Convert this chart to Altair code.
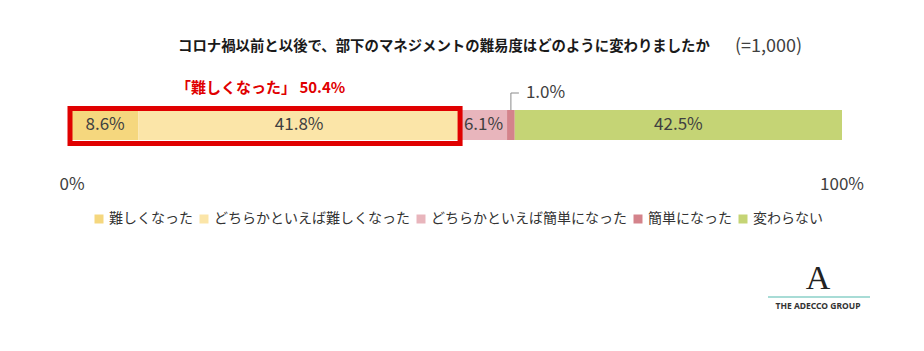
import altair as alt
import pandas as pd

# ---- data ----
categories = ["難しくなった", "どちらかといえば難しくなった", "どちらかといえば簡単になった", "簡単になった", "変わらない"]
values = [8.6, 41.8, 6.1, 1.0, 42.5]
colors = ["#F5D77E", "#FBE5A8", "#E8B5BC", "#D4838B", "#C5D475"]
tick_values = [0, 100]
tick_labels = ["0%", "100%"]
title_main = "コロナ禍以前と以後で、部下のマネジメントの難易度はどのように変わりましたか"
title_n = "(=1,000)"
highlight_text = "「難しくなった」 50.4%"
highlight_parts = 2  # first two categories form the highlighted total

FONT = "Noto Sans CJK JP"
LEFT = 72  # plot-area left edge (px)

starts, ends = [], []
acc = 0.0
for v in values:
    starts.append(acc)
    acc += v
    ends.append(acc)

df = pd.DataFrame({
    "category": categories,
    "value": values,
    "start": starts,
    "end": ends,
    "mid": [(s + e) / 2 for s, e in zip(starts, ends)],
    "label": [f"{v:.1f}%" for v in values],
})
df_box = pd.DataFrame({"start": [0.0], "end": [sum(values[:highlight_parts])]})
df_ticks = pd.DataFrame({"v": tick_values, "t": tick_labels})

xscale = alt.Scale(domain=[0, 100])

bars = alt.Chart(df).mark_rect().encode(
    x=alt.X("start:Q", scale=xscale, axis=None),
    x2="end:Q",
    y=alt.value(110),
    y2=alt.value(140),
    color=alt.Color(
        "category:N",
        scale=alt.Scale(domain=categories, range=colors),
        legend=alt.Legend(
            title=None, orient="none", direction="horizontal",
            legendX=97 - LEFT - 5, legendY=212,
            symbolType="square", symbolSize=81, symbolStrokeWidth=0,
            labelFont=FONT, labelFontSize=14, labelColor="#333333",
            labelLimit=400, labelOffset=3, columnPadding=4, padding=0,
        ),
    ),
)

inner_labels = alt.Chart(df).transform_filter("datum.value >= 3").mark_text(
    font=FONT, fontSize=17, color="#404040"
).encode(x=alt.X("mid:Q", scale=xscale), y=alt.value(125), text="label:N")

small = df[df["value"] < 3]
lead_v = alt.Chart(small).mark_rule(color="#8a8a8a", strokeWidth=1).encode(
    x=alt.X("mid:Q", scale=xscale), y=alt.value(110), y2=alt.value(93)
)
lead_h = alt.Chart(small).mark_rule(color="#8a8a8a", strokeWidth=1, x2Offset=8).encode(
    x=alt.X("mid:Q", scale=xscale), x2="mid:Q", y=alt.value(93)
)
small_label = alt.Chart(small).mark_text(
    font=FONT, fontSize=17, color="#404040", align="left", dx=15
).encode(x=alt.X("mid:Q", scale=xscale), y=alt.value(93), text="label:N")

box = alt.Chart(df_box).mark_rect(
    fillOpacity=0, stroke="#E00000", strokeWidth=5, xOffset=-2, x2Offset=0
).encode(
    x=alt.X("start:Q", scale=xscale), x2="end:Q",
    y=alt.value(108.5), y2=alt.value(143.5),
)

ticks = alt.Chart(df_ticks).mark_text(font=FONT, fontSize=17, color="#404040").encode(
    x=alt.X("v:Q", scale=xscale), y=alt.value(185), text="t:N"
)

title1 = alt.Chart(pd.DataFrame({"t": [title_main]})).mark_text(
    font=FONT, fontSize=14.4, fontWeight="bold", color="#1a1a1a", align="left"
).encode(x=alt.value(178 - LEFT), y=alt.value(47), text="t:N")
title2 = alt.Chart(pd.DataFrame({"t": [title_n]})).mark_text(
    font=FONT, fontSize=18, color="#404040", align="left"
).encode(x=alt.value(735 - LEFT), y=alt.value(47), text="t:N")

hl = alt.Chart(pd.DataFrame({"t": [highlight_text]})).mark_text(
    font=FONT, fontSize=15, fontWeight="bold", color="#E00000", align="left"
).encode(x=alt.value(176 - LEFT), y=alt.value(88), text="t:N")

logo_a = alt.Chart(pd.DataFrame({"t": ["A"]})).mark_text(
    font="Liberation Serif", fontSize=34, color="#222222", baseline="alphabetic"
).encode(x=alt.value(818 - LEFT), y=alt.value(289), text="t:N")
logo_line = alt.Chart(pd.DataFrame({"t": [1]})).mark_rule(color="#A8DCD6", strokeWidth=2).encode(
    x=alt.value(768 - LEFT), x2=alt.value(870 - LEFT), y=alt.value(297)
)
logo_text = alt.Chart(pd.DataFrame({"t": ["THE ADECCO GROUP"]})).mark_text(
    font="Noto Sans", fontSize=8.5, fontWeight="bold", color="#333333"
).encode(x=alt.value(818 - LEFT), y=alt.value(306), text="t:N")

chart = alt.layer(
    bars, inner_labels, lead_v, lead_h, small_label, box, ticks,
    title1, title2, hl, logo_a, logo_line, logo_text,
).properties(
    width=770, height=351,
    autosize=alt.AutoSizeParams(type="none"),
    padding={"left": LEFT, "top": 0, "right": 924 - LEFT - 770, "bottom": 0},
).configure_view(stroke=None)

chart.save("out.html", embed_options={"renderer": "svg", "actions": False})
